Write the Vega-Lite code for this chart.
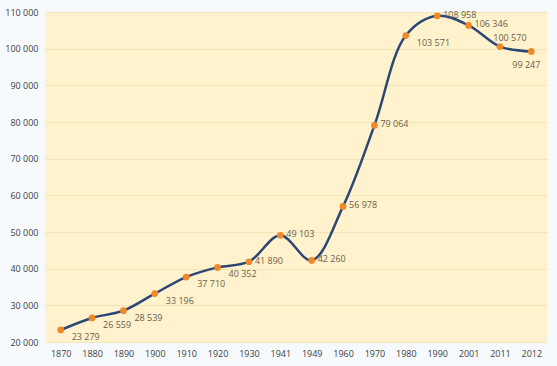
{
  "$schema": "https://vega.github.io/schema/vega-lite/v6.json",
  "width": 502,
  "height": 330,
  "autosize": "none",
  "padding": {"left": 45, "top": 12, "right": 10, "bottom": 24},
  "background": "#F7FAFD",
  "data": {
    "values": [
      {"year": "1870", "pop": 23279},
      {"year": "1880", "pop": 26559},
      {"year": "1890", "pop": 28539},
      {"year": "1900", "pop": 33196},
      {"year": "1910", "pop": 37710},
      {"year": "1920", "pop": 40352},
      {"year": "1930", "pop": 41890},
      {"year": "1941", "pop": 49103},
      {"year": "1949", "pop": 42260},
      {"year": "1960", "pop": 56978},
      {"year": "1970", "pop": 79064},
      {"year": "1980", "pop": 103571},
      {"year": "1990", "pop": 108958},
      {"year": "2001", "pop": 106346},
      {"year": "2011", "pop": 100570},
      {"year": "2012", "pop": 99247}
    ]
  },
  "transform": [
    {"calculate": "replace(format(datum.pop, ','), ',', ' ')", "as": "label"}
  ],
  "encoding": {
    "x": {
      "field": "year", "type": "ordinal", "sort": null,
      "scale": {"type": "point", "padding": 0.5},
      "axis": {"title": null, "labelAngle": 0, "domain": false, "ticks": false, "grid": false,
               "labelPadding": 7, "labelFontSize": 9, "labelColor": "#404040", "labelFont": "Open Sans"}
    },
    "y": {
      "field": "pop", "type": "quantitative",
      "scale": {"domain": [20000, 110000], "nice": false, "zero": false},
      "axis": {"title": null, "values": [20000, 30000, 40000, 50000, 60000, 70000, 80000, 90000, 100000, 110000],
               "labelExpr": "replace(format(datum.value, ','), ',', ' ')",
               "domain": false, "ticks": false, "grid": true, "gridColor": "#F3E3B8", "gridWidth": 1,
               "labelPadding": 7, "labelFontSize": 9, "labelColor": "#404040", "labelFont": "Open Sans"}
    }
  },
  "layer": [
    {"mark": {"type": "line", "interpolate": "catmull-rom", "color": "#2A4776", "strokeWidth": 2.5}},
    {"mark": {"type": "point", "shape": "circle", "filled": true, "size": 45, "color": "#F0892A", "opacity": 1}},
    {
      "transform": [{"filter": {"field": "year", "oneOf": ["1870", "1880", "1890", "1900", "1910", "1920", "1980"]}}],
      "mark": {"type": "text", "align": "left", "baseline": "middle", "dx": 11, "dy": 7, "fontSize": 9, "font": "Open Sans", "color": "#6B5E4A"},
      "encoding": {"text": {"field": "label"}}
    },
    {
      "transform": [{"filter": {"field": "year", "oneOf": ["1930", "1941", "1949", "1960", "1970", "1990", "2001"]}}],
      "mark": {"type": "text", "align": "left", "baseline": "middle", "dx": 6, "dy": -1, "fontSize": 9, "font": "Open Sans", "color": "#6B5E4A"},
      "encoding": {"text": {"field": "label"}}
    },
    {
      "transform": [{"filter": {"field": "year", "oneOf": ["2011"]}}],
      "mark": {"type": "text", "align": "center", "baseline": "middle", "dx": 10, "dy": -9, "fontSize": 9, "font": "Open Sans", "color": "#6B5E4A"},
      "encoding": {"text": {"field": "label"}}
    },
    {
      "transform": [{"filter": {"field": "year", "oneOf": ["2012"]}}],
      "mark": {"type": "text", "align": "center", "baseline": "middle", "dx": -5, "dy": 14, "fontSize": 9, "font": "Open Sans", "color": "#6B5E4A"},
      "encoding": {"text": {"field": "label"}}
    }
  ],
  "config": {
    "view": {"fill": "#FFF2CC", "stroke": null}
  }
}
